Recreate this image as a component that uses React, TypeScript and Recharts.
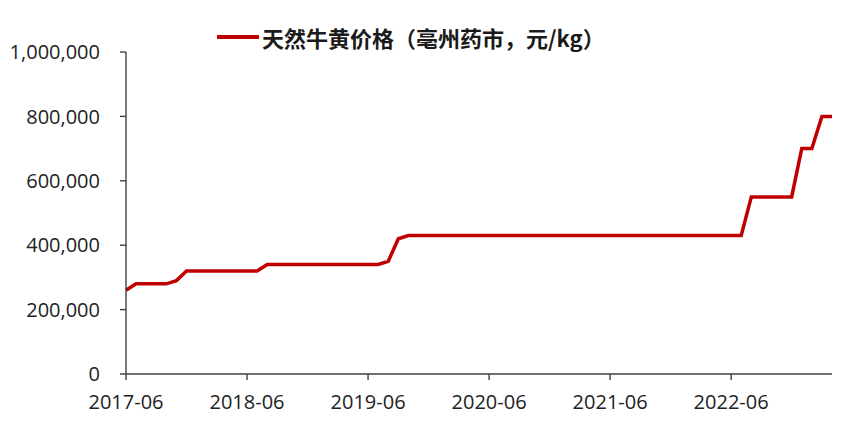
import { CartesianGrid, Legend, Line, LineChart, XAxis, YAxis } from 'recharts'

const MONTHS = [
  '2017-06', '2017-07', '2017-08', '2017-09', '2017-10', '2017-11', '2017-12',
  '2018-01', '2018-02', '2018-03', '2018-04', '2018-05', '2018-06', '2018-07', '2018-08', '2018-09', '2018-10', '2018-11', '2018-12',
  '2019-01', '2019-02', '2019-03', '2019-04', '2019-05', '2019-06', '2019-07', '2019-08', '2019-09', '2019-10', '2019-11', '2019-12',
  '2020-01', '2020-02', '2020-03', '2020-04', '2020-05', '2020-06', '2020-07', '2020-08', '2020-09', '2020-10', '2020-11', '2020-12',
  '2021-01', '2021-02', '2021-03', '2021-04', '2021-05', '2021-06', '2021-07', '2021-08', '2021-09', '2021-10', '2021-11', '2021-12',
  '2022-01', '2022-02', '2022-03', '2022-04', '2022-05', '2022-06', '2022-07', '2022-08', '2022-09', '2022-10', '2022-11', '2022-12',
  '2023-01', '2023-02', '2023-03', '2023-04',
]

// 天然牛黄价格（亳州药市，元/kg）, monthly
const PRICES = [
  260000, 280000, 280000, 280000, 280000, 290000, 320000,
  320000, 320000, 320000, 320000, 320000, 320000, 320000, 340000, 340000, 340000, 340000, 340000,
  340000, 340000, 340000, 340000, 340000, 340000, 340000, 350000, 420000, 430000, 430000, 430000,
  430000, 430000, 430000, 430000, 430000, 430000, 430000, 430000, 430000, 430000, 430000, 430000,
  430000, 430000, 430000, 430000, 430000, 430000, 430000, 430000, 430000, 430000, 430000, 430000,
  430000, 430000, 430000, 430000, 430000, 430000, 430000, 550000, 550000, 550000, 550000, 550000,
  700000, 700000, 800000, 800000,
]

const Y_TICKS = [0, 200000, 400000, 600000, 800000, 1000000]
const SERIES_NAME = '天然牛黄价格（亳州药市，元/kg）'

const data = MONTHS.map((month, i) => ({ month, price: PRICES[i] }))

const tickStyle = { fontSize: 20, fill: '#222', fontFamily: '"Open Sans", "Noto Sans", sans-serif' }
const axisColor = '#404040'

function LegendContent({ payload }: any) {
  return (
    <div style={{ display: 'flex', alignItems: 'center' }}>
      {(payload || []).map((entry: any) => (
        <div key={entry.value} style={{ display: 'flex', alignItems: 'center' }}>
          <span style={{ display: 'inline-block', width: 42, height: 4, background: entry.color, marginRight: 3 }} />
          <span
            style={{
              fontFamily: '"Noto Sans CJK SC", sans-serif',
              fontWeight: 700,
              fontSize: 22,
              color: '#1a1a1a',
            }}
          >
            {entry.value}
          </span>
        </div>
      ))}
    </div>
  )
}

export default function App() {
  return (
    <div style={{ position: 'absolute', left: 0, top: 0, background: '#fff' }}>
      <LineChart width={849} height={430} data={data} margin={{ top: 52, right: 17, left: 0, bottom: 0 }}>
        <CartesianGrid stroke="none" />
        <XAxis
          dataKey="month"
          height={56}
          interval={11}
          tick={tickStyle}
          tickSize={6}
          tickMargin={15}
          stroke={axisColor}
          axisLine={{ stroke: axisColor, strokeWidth: 1.4 }}
          tickLine={{ stroke: axisColor, strokeWidth: 1.4 }}
        />
        <YAxis
          width={126}
          domain={[0, 1000000]}
          ticks={Y_TICKS}
          tickFormatter={(v: number) => v.toLocaleString('en-US')}
          tick={tickStyle}
          tickSize={6}
          tickMargin={20}
          stroke={axisColor}
          axisLine={{ stroke: axisColor, strokeWidth: 1.4 }}
          tickLine={{ stroke: axisColor, strokeWidth: 1.4 }}
        />
        <Legend
          layout="horizontal"
          verticalAlign="middle"
          align="center"
          content={<LegendContent />}
          wrapperStyle={{ top: 21, left: 217, width: 'auto', height: 'auto' }}
        />
        <Line
          type="linear"
          dataKey="price"
          name={SERIES_NAME}
          stroke="#c00000"
          strokeWidth={3.5}
          dot={false}
          activeDot={false}
          isAnimationActive={false}
        />
      </LineChart>
    </div>
  )
}
